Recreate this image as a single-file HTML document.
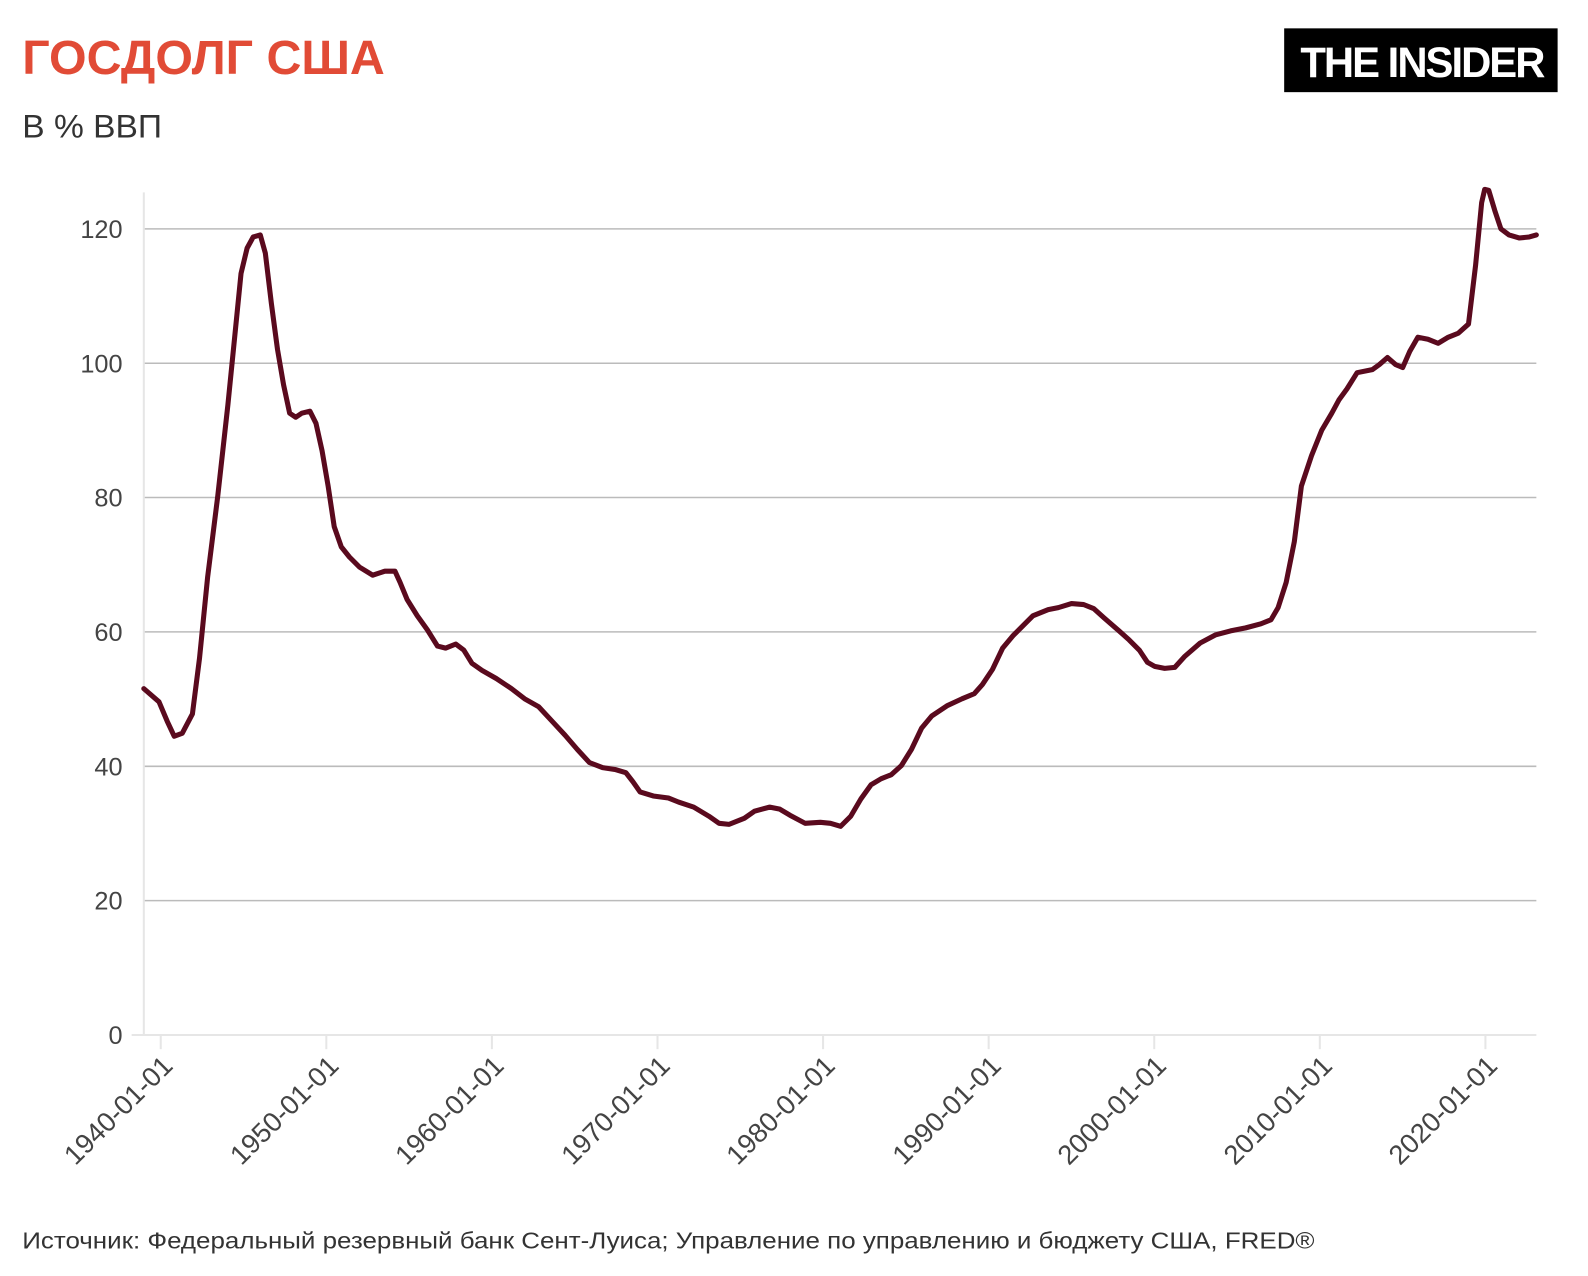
<!DOCTYPE html>
<html><head><meta charset="utf-8"><style>
html,body{margin:0;padding:0;background:#fff;}
svg{display:block;}
text{font-family:"Liberation Sans","DejaVu Sans",sans-serif;}
</style></head><body>
<svg width="1588" height="1276" viewBox="0 0 1568 1260" preserveAspectRatio="none" xmlns="http://www.w3.org/2000/svg">
<rect width="1568" height="1260" fill="#fff"/>
<text x="22" y="73" font-size="48" font-weight="bold" fill="#e14b36" textLength="358" lengthAdjust="spacingAndGlyphs">ГОСДОЛГ США</text>
<text x="22" y="136" font-size="32" fill="#333" textLength="138" lengthAdjust="spacingAndGlyphs">В % ВВП</text>
<rect x="1268" y="28" width="270" height="63" fill="#000"/>
<text x="1284" y="76" font-size="42" font-weight="bold" fill="#fff" textLength="240" lengthAdjust="spacingAndGlyphs" letter-spacing="-2">THE INSIDER</text>
<g stroke="#bbb" stroke-width="1.5">
<line x1="142" y1="226" x2="1517" y2="226"/>
<line x1="142" y1="358.7" x2="1517" y2="358.7"/>
<line x1="142" y1="491.3" x2="1517" y2="491.3"/>
<line x1="142" y1="624" x2="1517" y2="624"/>
<line x1="142" y1="756.7" x2="1517" y2="756.7"/>
<line x1="142" y1="889.3" x2="1517" y2="889.3"/>
</g>
<g stroke="#e6e6e6" stroke-width="2">
<line x1="130" y1="1022" x2="1517" y2="1022"/>
<line x1="142" y1="190" x2="142" y2="1022"/>
<line x1="158.7" y1="1022" x2="158.7" y2="1036"/>
<line x1="322.2" y1="1022" x2="322.2" y2="1036"/>
<line x1="485.7" y1="1022" x2="485.7" y2="1036"/>
<line x1="649.2" y1="1022" x2="649.2" y2="1036"/>
<line x1="812.7" y1="1022" x2="812.7" y2="1036"/>
<line x1="976.2" y1="1022" x2="976.2" y2="1036"/>
<line x1="1139.7" y1="1022" x2="1139.7" y2="1036"/>
<line x1="1303.2" y1="1022" x2="1303.2" y2="1036"/>
<line x1="1466.7" y1="1022" x2="1466.7" y2="1036"/>
</g>
<g font-size="25" fill="#444" text-anchor="end">
<text x="121" y="235">120</text>
<text x="121" y="368">100</text>
<text x="121" y="500">80</text>
<text x="121" y="633">60</text>
<text x="121" y="766">40</text>
<text x="121" y="898">20</text>
<text x="121" y="1031">0</text>
</g>
<g font-size="27" fill="#444" text-anchor="end">
<text transform="translate(172,1054) rotate(-45)">1940-01-01</text>
<text transform="translate(336,1054) rotate(-45)">1950-01-01</text>
<text transform="translate(499,1054) rotate(-45)">1960-01-01</text>
<text transform="translate(663,1054) rotate(-45)">1970-01-01</text>
<text transform="translate(826,1054) rotate(-45)">1980-01-01</text>
<text transform="translate(990,1054) rotate(-45)">1990-01-01</text>
<text transform="translate(1153,1054) rotate(-45)">2000-01-01</text>
<text transform="translate(1317,1054) rotate(-45)">2010-01-01</text>
<text transform="translate(1480,1054) rotate(-45)">2020-01-01</text>
</g>
<polyline fill="none" stroke="#5a0a1e" stroke-width="5" stroke-linejoin="round" stroke-linecap="round" points="142,680 157,693 165,712 172,727 180,724 190,705 197,650 205,570 215,490 225,400 232,330 238,270 244,245 250,234 257,232 262,250 268,300 274,345 280,380 286,408 292,412 298,408 306,406 312,418 318,445 324,480 330,520 337,540 345,550 355,560 368,568 380,564 390,564 395,575 402,592 412,608 422,622 432,638 440,640 450,636 458,642 466,655 476,662 490,670 505,680 518,690 532,698 545,712 558,726 570,740 582,753 595,758 608,760 618,763 625,772 632,782 645,786 660,788 670,792 685,797 700,806 710,813 720,814 735,808 745,801 760,797 770,799 780,805 795,813 810,812 820,813 830,816 840,806 850,789 860,775 870,769 880,765 890,756 900,740 910,719 920,707 935,697 950,690 962,685 970,676 980,661 990,640 1000,628 1010,618 1020,608 1035,602 1045,600 1058,596 1070,597 1080,601 1090,610 1105,623 1115,632 1125,642 1133,654 1140,658 1150,660 1160,659 1170,648 1185,635 1200,627 1215,623 1230,620 1245,616 1255,612 1262,600 1270,575 1278,535 1285,480 1295,450 1305,425 1315,408 1322,395 1330,384 1340,368 1355,365 1362,360 1370,353 1378,360 1385,363 1392,347 1400,333 1410,335 1420,339 1430,333 1440,329 1450,320 1457,262 1463,200 1466,187 1470,188 1476,208 1482,226 1490,232 1500,235 1510,234 1517,232"/>
<text x="22" y="1233" font-size="23" fill="#333" textLength="1276" lengthAdjust="spacingAndGlyphs">Источник: Федеральный резервный банк Сент-Луиса; Управление по управлению и бюджету США, FRED®</text>
</svg>
</body></html>
